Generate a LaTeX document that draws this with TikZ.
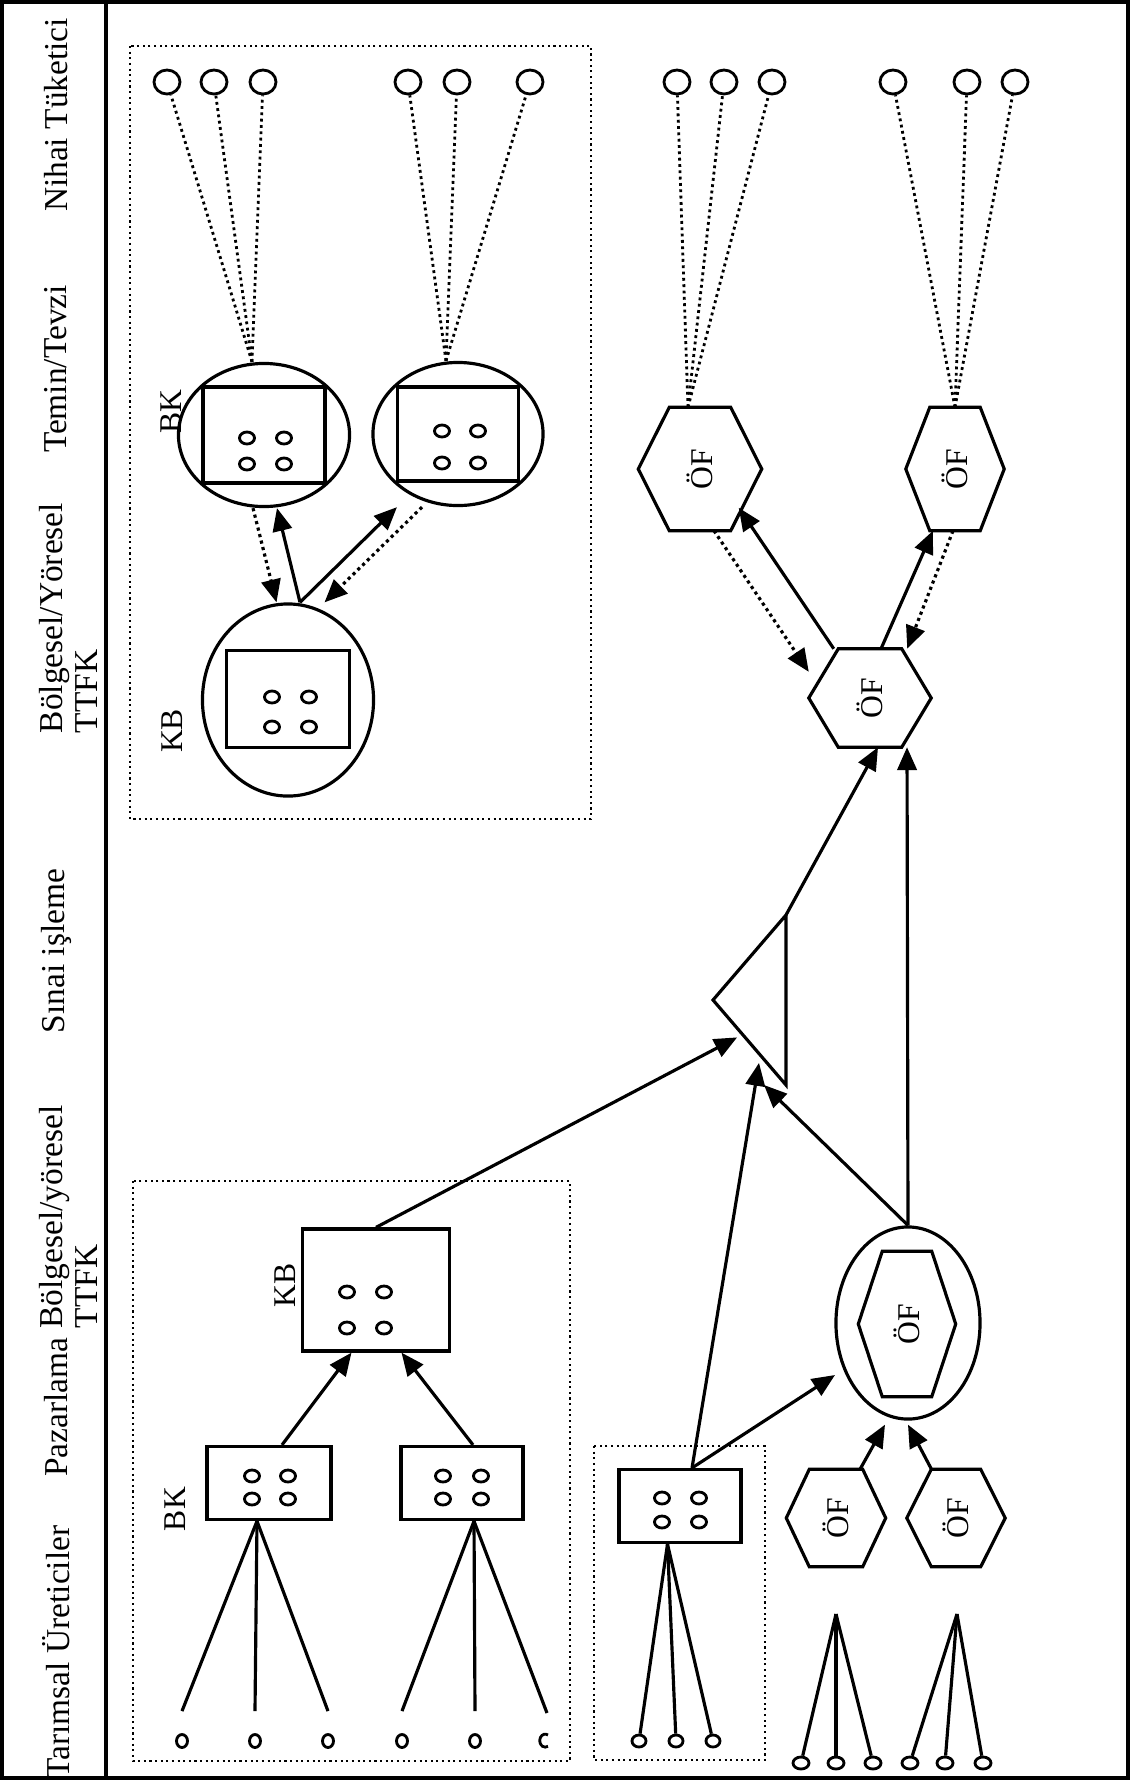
\documentclass[tikz,border=0pt]{standalone}
\usepackage{fontspec}
\setmainfont{Liberation Serif}
\usepackage{graphicx}
\usepackage{tikz}
\usetikzlibrary{arrows.meta, shapes.geometric, calc}

% hexagon drawn over a named (invisible) box node: #1 node, #2 point length
\newcommand{\hexpath}[2]{%
  \draw[hexline] (#1.west) -- ([xshift=#2]#1.north west)
    -- ([xshift=-#2]#1.north east) -- (#1.east)
    -- ([xshift=-#2]#1.south east) -- ([xshift=#2]#1.south west) -- cycle;}

\begin{document}
\begin{tikzpicture}[
  x=0.01cm, y=-0.01cm,
  every node/.style = {font=\fontsize{9.5}{10}\selectfont},
  header/.style = {rotate=90, align=left, inner sep=0pt},
  tag/.style    = {rotate=90, inner sep=0pt, font=\fontsize{9}{9}\selectfont},
  unit/.style   = {rectangle, draw, line width=0.9pt, inner sep=0pt},
  ring/.style   = {ellipse, draw, line width=0.9pt, inner sep=0pt},
  hexbox/.style = {rectangle, inner sep=0pt, font=\fontsize{9}{9}\selectfont},
  hexline/.style = {line width=0.9pt, line join=miter},
  cons/.style   = {ellipse, draw, line width=0.8pt, inner sep=0pt,
                   minimum width=0.26cm, minimum height=0.24cm},
  grain/.style  = {ellipse, draw, line width=0.8pt, inner sep=0pt,
                   minimum width=0.11cm, minimum height=0.13cm},
  zone/.style   = {densely dotted, line width=0.6pt},
  feed/.style   = {densely dotted, line width=0.8pt},
  link/.style   = {line width=0.9pt},
  arr/.style    = {-{Triangle[length=6.5pt, width=5.5pt]}, line width=0.9pt},
  darr/.style   = {arr, densely dotted},
]
\useasboundingbox (0,0) rectangle (1141,1784);

%% -- frame and stage headers ---------------------------------------------
\draw[line width=1pt] (2,2) rectangle (1128,1778);
\draw[line width=0.9pt] (106,2) -- (106,1778);

\node[header] (h-nihai)  at (56,115)  {Nihai Tüketici};
\node[header] (h-temin)  at (56,369)  {Temin/Tevzi};
\node[header] (h-bolge1) at (68,618)  {Bölgesel/Yöresel\\TTFK};
\node[header] (h-sinai)  at (56,951)  {Sınai işleme};
\node[header] (h-bolge2) at (68,1217) {Bölgesel/yöresel\\TTFK};
\node[header] (h-pazar)  at (56,1407) {Pazarlama};
\node[header] (h-tarim)  at (56,1652) {Tarımsal Üreticiler};

%% -- upper group: KB and BK units ----------------------------------------
\draw[zone] (130,46) rectangle (591,819);
\node[ring, minimum width=1.71cm, minimum height=1.43cm] (bk1) at (264,435) {};
\node[unit, minimum width=1.22cm, minimum height=0.96cm] (bk1r) at (264,435) {};
\node[ring, minimum width=1.70cm, minimum height=1.43cm] (bk2) at (458,434) {};
\node[unit, minimum width=1.21cm, minimum height=0.94cm] (bk2r) at (458,434) {};
\node[ring, minimum width=1.71cm, minimum height=1.92cm] (kb1) at (288,700) {};
\node[unit, minimum width=1.23cm, minimum height=0.97cm] (kb1r) at (288,699) {};
\node[tag] (bk1-tag) at (171,412) {BK};
\node[tag] (kb1-tag) at (172,731) {KB};

%% -- consumers -----------------------------------------------------------
\foreach \i/\x in {1/167,2/214,3/263,4/408,5/457,6/530,
                   7/677,8/724,9/772,10/893,11/967,12/1015}
  \node[cons] (tc\i) at (\x,82) {};

%% -- upper hexagons ------------------------------------------------------
\node[hexbox, minimum width=1.22cm, minimum height=1.22cm] (of1) at (700,469)
  {\rotatebox{90}{ÖF}};
\hexpath{of1}{0.31cm}
\node[hexbox, minimum width=0.97cm, minimum height=1.22cm] (of2) at (955,469)
  {\rotatebox{90}{ÖF}};
\hexpath{of2}{0.24cm}
\node[hexbox, minimum width=1.21cm, minimum height=0.97cm] (of3) at (870,698)
  {\rotatebox{90}{ÖF}};
\hexpath{of3}{0.295cm}

%% -- industrial processing -----------------------------------------------
\coordinate (tri-t) at (786,915);
\coordinate (tri-l) at (713,1000);
\coordinate (tri-b) at (786,1085);
\draw[line width=0.9pt, line join=miter] (tri-t) -- (tri-l) -- (tri-b) -- cycle;

%% -- lower group ---------------------------------------------------------
\draw[zone] (133,1181) rectangle (570,1761);
\node[unit, minimum width=1.47cm, minimum height=1.22cm] (kb2) at (376,1290) {};
\node[tag] (kb2-tag) at (285,1285) {KB};
\node[unit, minimum width=1.24cm, minimum height=0.73cm] (rbk1) at (269,1483) {};
\node[unit, minimum width=1.22cm, minimum height=0.73cm] (rbk2) at (462,1483) {};
\node[tag] (rbk-tag) at (175,1509) {BK};

\foreach \i/\x in {1/182,2/255,3/328,4/402,5/475}
  \node[grain] (p\i) at (\x,1741) {};
\coordinate (p6) at (545,1741);
\draw[line width=0.8pt] ($(p6)+(3,-6)$)
  arc[start angle=60, end angle=300, x radius=0.055cm, y radius=0.065cm];

\draw[zone] (594,1446) rectangle (765,1760);
\node[unit, minimum width=1.22cm, minimum height=0.73cm] (bx3) at (680,1506) {};
\foreach \i/\x in {1/639,2/676,3/713}
  \node[grain, minimum width=0.14cm, minimum height=0.12cm] (q\i) at (\x,1741) {};

\node[ring, minimum width=1.44cm, minimum height=1.92cm] (ofe) at (908,1323) {};
\node[hexbox, minimum width=0.96cm, minimum height=1.44cm] (ofi) at (907,1324)
  {\rotatebox{90}{ÖF}};
\hexpath{ofi}{0.24cm}
\node[hexbox, minimum width=0.98cm, minimum height=0.96cm] (of4) at (836,1518)
  {\rotatebox{90}{ÖF}};
\hexpath{of4}{0.23cm}
\node[hexbox, minimum width=0.97cm, minimum height=0.96cm] (of5) at (956,1518)
  {\rotatebox{90}{ÖF}};
\hexpath{of5}{0.245cm}

\coordinate (g4) at (836,1614);
\coordinate (g5) at (957,1614);
\foreach \i/\x in {1/801,2/836,3/873,4/910,5/945,6/983}
  \node[grain, minimum width=0.16cm, minimum height=0.12cm] (r\i) at (\x,1763) {};

%% -- little ovals inside the units ---------------------------------------
\foreach \n/\a/\b/\c/\d in {bk1r/-17/20/3/29, bk2r/-16/20/-3/29,
    kb1r/-16/21/-2/28, kb2/-29/8/2/38, rbk1/-17/19/-7/16,
    rbk2/-19/19/-7/16, bx3/-18/19/-8/16}
  \foreach \u in {\a,\b}
    \foreach \v in {\c,\d}
      \draw[line width=0.8pt] ($(\n)+(\u,\v)$)
        ellipse [x radius=0.075cm, y radius=0.06cm];

%% -- dotted supply lines to consumers ------------------------------------
\foreach \i in {1,2,3}    \draw[feed] ([xshift=-0.12cm]bk1.north) -- (tc\i);
\foreach \i in {4,5,6}    \draw[feed] ([xshift=-0.12cm]bk2.north) -- (tc\i);
\foreach \i in {7,8,9}    \draw[feed] ([xshift=-0.12cm]of1.north) -- (tc\i);
\foreach \i in {10,11,12} \draw[feed] (of2.north) -- (tc\i);

%% -- arrows, upper group -------------------------------------------------
\draw[darr] ([xshift=-0.11cm]bk1.south) -- ([xshift=-0.115cm]kb1.north);
\draw[arr]  ([xshift=0.12cm]kb1.north)  -- ([xshift=0.13cm]bk1.south);
\draw[arr]  ([xshift=0.12cm]kb1.north)  -- ([xshift=-0.61cm]bk2.south);
\draw[darr] ([xshift=-0.36cm]bk2.south) -- ([xshift=0.365cm]kb1.north);

\draw[darr] ([xshift=0.14cm]of1.south)      -- ([yshift=-0.23cm]of3.north west);
\draw[arr]  ([xshift=0.25cm]of3.north west) -- ([xshift=-0.23cm,yshift=0.23cm]of1.south east);
\draw[arr]  ([xshift=0.11cm]of3.north)      -- ([xshift=-0.22cm]of2.south);
\draw[darr] ([xshift=-0.02cm]of2.south)     -- ([xshift=-0.24cm]of3.north east);

\draw[arr] (tri-t)     -- ([xshift=0.08cm]of3.south);
\draw[arr] (ofe.north) -- ([xshift=0.37cm]of3.south);

%% -- arrows, lower groups ------------------------------------------------
\draw[arr] ([xshift=0.13cm]rbk1.north) -- ([xshift=-0.245cm]kb2.south);
\draw[arr] ([xshift=0.11cm]rbk2.north) -- ([xshift=0.255cm]kb2.south);
\draw[arr] (kb2.north) -- ($(tri-l)!0.44!(tri-b)+(-8,0)$);
\draw[arr] ([xshift=0.12cm]bx3.north) -- ($(tri-l)!0.74!(tri-b)+(-8,0)$);
\draw[arr] ([xshift=0.12cm]bx3.north) -- ($(ofe)+(-73,52)$);
\draw[arr] (ofe.north) -- ($(tri-b)+(-22,0)$);
\draw[arr] ([xshift=0.24cm]of4.north)  -- ([xshift=-0.23cm,yshift=-0.04cm]ofe.south);
\draw[arr] ([xshift=-0.245cm]of5.north) -- ([yshift=-0.04cm]ofe.south);

%% -- producer lines ------------------------------------------------------
\foreach \i in {1,2,3}
  \draw[link] ([xshift=-0.12cm]rbk1.south) -- ($(p\i.north)+(0,-22)$);
\foreach \i in {4,5}
  \draw[link] ([xshift=0.12cm]rbk2.south) -- ($(p\i.north)+(0,-22)$);
\draw[link] ([xshift=0.12cm]rbk2.south) -- ($(p6)+(2,-28)$);
\foreach \i in {1,2,3}
  \draw[link] ([xshift=-0.125cm]bx3.south) -- (q\i);
\foreach \i in {1,2,3} \draw[link] (g4) -- (r\i);
\foreach \i in {4,5,6} \draw[link] (g5) -- (r\i);

\end{tikzpicture}
\end{document}
